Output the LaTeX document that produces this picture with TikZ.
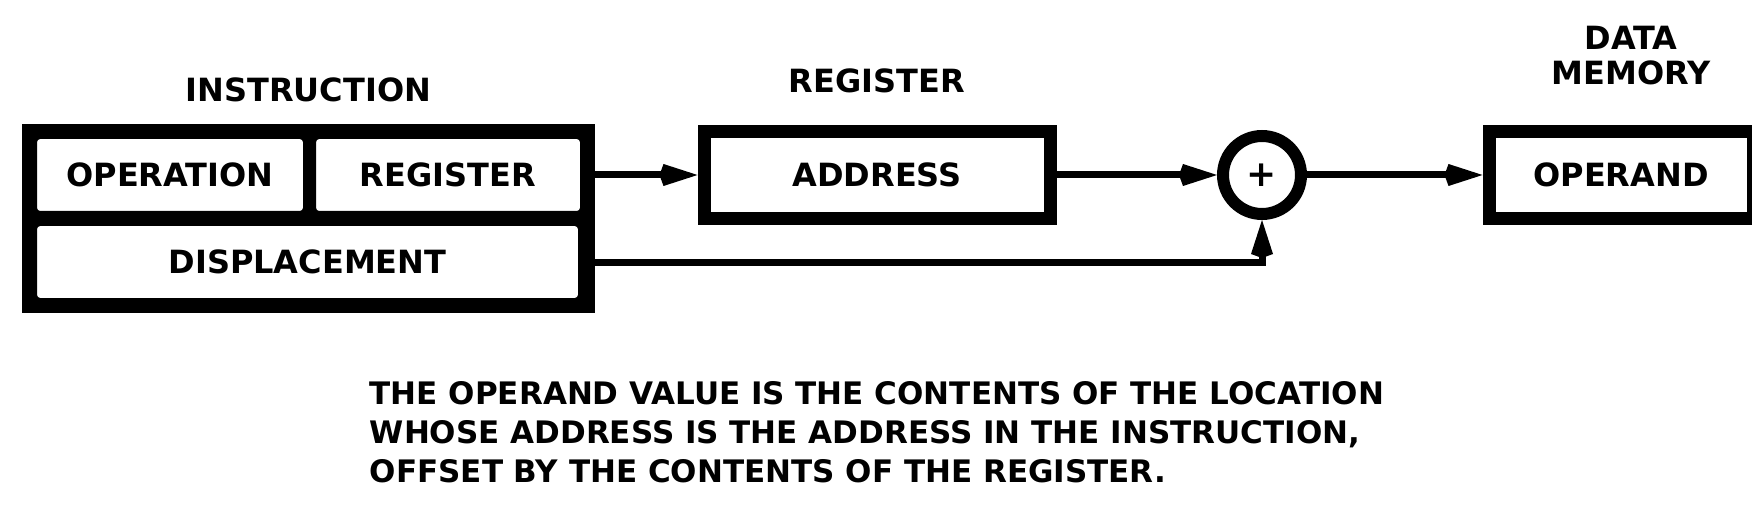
\documentclass[tikz,border=0pt]{standalone}
\usepackage{fontspec}
\setmainfont{DejaVu Sans}
\usepackage{tikz}
\usetikzlibrary{arrows.meta,positioning,fit,backgrounds}
\tikzset{
  lbl/.style={font=\bfseries\fontsize{32}{35}\selectfont, inner sep=0pt, align=center},
  field/.style={draw, line width=2pt, fill=white, rounded corners=4pt, minimum height=74pt, inner sep=0pt, font=\bfseries\fontsize{32}{35}\selectfont},
  box/.style={draw, line width=13pt, minimum height=87pt, inner sep=0pt, font=\bfseries\fontsize{32}{35}\selectfont},
  adder/.style={circle, draw, line width=12pt, minimum size=78pt, inner sep=0pt, font=\bfseries\fontsize{36}{36}\selectfont},
  note/.style={font=\bfseries\fontsize{31}{39}\selectfont, inner sep=0pt, align=left},
  arrow/.style={-{Kite[length=38pt,width=22pt,inset=4pt]}, line width=7pt},
}
\begin{document}
\begin{tikzpicture}[x=1pt,y=1pt]
\useasboundingbox (0,0) rectangle (1752,520);
% instruction word
\node[field, minimum width=268pt] (op) at (170,345) {OPERATION};
\node[field, minimum width=266pt, right=9pt of op] (reg) {REGISTER};
\node[field, minimum width=543pt, below right=11pt and 0pt of op.south west] (disp) {DISPLACEMENT};
\begin{scope}[on background layer]
\node[fit=(op)(reg)(disp), inner sep=13pt, fill=black] (instr) {};
\end{scope}
\node[lbl, above=22pt of instr] {INSTRUCTION};
% register, adder, memory
\node[box, minimum width=346pt, right=115.5pt of reg] (addr) {ADDRESS};
\node[lbl, above=31.5pt of addr] {REGISTER};
\node[adder, right=160.5pt of addr] (sum) {+};
\node[box, minimum width=264pt, right=175.5pt of sum] (mem) {OPERAND};
\node[lbl, above=39.5pt of mem, xshift=10pt] {DATA\\MEMORY};
\draw[arrow] (instr.east |- addr.west) -- (addr.west);
\draw[arrow] (addr) -- (sum);
\draw[arrow] (sum) -- (mem);
\draw[arrow] (instr.east |- disp.east) -| (sum.south);
\node[note, below=156.5pt of addr] {THE OPERAND VALUE IS THE CONTENTS OF THE LOCATION\\
WHOSE ADDRESS IS THE ADDRESS IN THE INSTRUCTION,\\
OFFSET BY THE CONTENTS OF THE REGISTER.};
\end{tikzpicture}
\end{document}
